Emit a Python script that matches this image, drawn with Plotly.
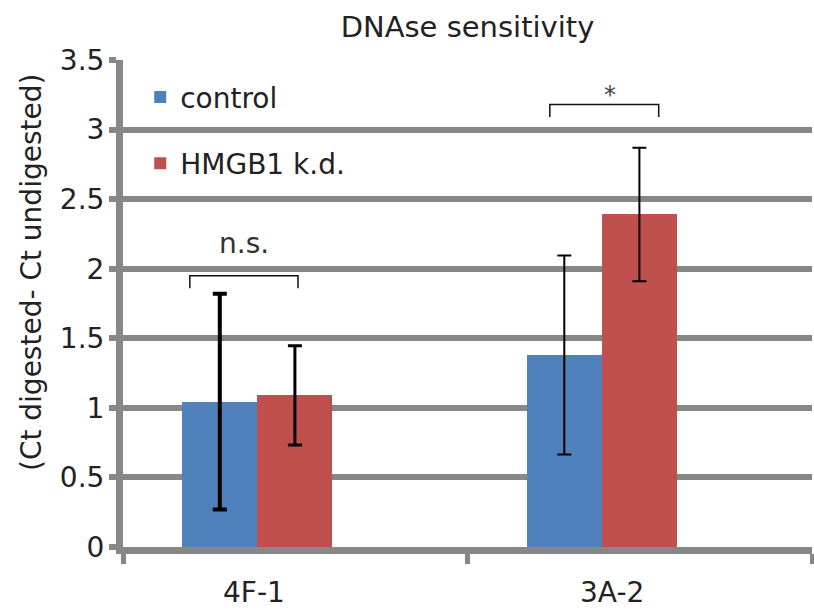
import numpy as np
import plotly.graph_objects as go

# ---- data ----
categories = ["4F-1", "3A-2"]
series_names = ["control", "HMGB1 k.d."]
control_vals = [1.045, 1.38]
control_err = [0.775, 0.715]
hmgb1_vals = [1.09, 2.39]
hmgb1_err = [0.357, 0.48]
y_ticks = [0, 0.5, 1, 1.5, 2, 2.5, 3, 3.5]
y_tick_text = ["0", "0.5", "1", "1.5", "2", "2.5", "3", "3.5"]

# significance brackets: (left, right, top, label)
brackets = [
    (0.194, 0.508, 1.95, "n.s."),
    (1.239, 1.555, 3.18, "*"),
]

# ---- style ----
FONT = "DejaVu Sans"
TXT = "#222222"
GRID = "#878787"
colors = ["#4F81BD", "#C0504D"]
group_pos = np.array([0.39, 1.39])      # centre of each bar pair on the x axis
label_pos = [0.38, 1.42]                # category label positions
bar_w = 0.218
err_thick = [[4, 2], [3, 2]]            # error-bar line width per series / category

fig = go.Figure()

values = [control_vals, hmgb1_vals]
errors = [control_err, hmgb1_err]
offsets = [-bar_w, 0.0]

for s, name in enumerate(series_names):
    fig.add_trace(go.Bar(
        x=group_pos, y=values[s], name=name,
        width=bar_w, offset=offsets[s],
        marker=dict(color=colors[s], line=dict(width=0)),
        legendgroup=name,
    ))

# error bars drawn at bar centres
for s in range(len(series_names)):
    centres = group_pos + offsets[s] + bar_w / 2
    for i in range(len(categories)):
        fig.add_trace(go.Scatter(
            x=[centres[i]], y=[values[s][i]], mode="markers",
            marker=dict(size=1, color="rgba(0,0,0,0)"),
            error_y=dict(type="data", array=[errors[s][i]], visible=True,
                         color="black", thickness=err_thick[s][i], width=7),
            showlegend=False, hoverinfo="skip",
        ))

# brackets with labels
shapes = []
annotations = []
for left, right, top, label in brackets:
    drop = 0.09
    shapes.append(dict(
        type="path", xref="x", yref="y",
        path=f"M {left},{top - drop} L {left},{top} L {right},{top} L {right},{top - drop}",
        line=dict(color="#111111", width=1.5),
    ))
    is_star = label == "*"
    annotations.append(dict(
        x=(left + right) / 2 + (0.017 if is_star else 0.0),
        y=top + (-0.05 if is_star else 0.1), xref="x", yref="y",
        text=label, showarrow=False, yanchor="bottom", xanchor="center",
        font=dict(family=FONT, size=24 if is_star else 28, color="#444444" if is_star else "#333333"),
    ))

annotations.append(dict(
    x=-0.1335, y=0.5626, xref="paper", yref="paper",
    xanchor="center", yanchor="middle",
    text="(Ct digested- Ct undigested)", textangle=-90, showarrow=False,
    font=dict(family=FONT, size=28, color=TXT),
))

fig.update_layout(
    width=814, height=612,
    margin=dict(l=123, r=2, t=60, b=65),
    paper_bgcolor="white", plot_bgcolor="white",
    font=dict(family=FONT, size=28, color=TXT),
    title=dict(text="DNAse sensitivity", x=0.5, xref="paper", xanchor="center",
               y=1 - 27 / 612, yref="container", yanchor="middle",
               font=dict(family=FONT, size=29, color=TXT)),
    showlegend=True,
    legend=dict(x=0.025, y=0.975, xanchor="left", yanchor="top",
                traceorder="grouped", tracegroupgap=27,
                bgcolor="rgba(0,0,0,0)", font=dict(family=FONT, size=28, color=TXT)),
    shapes=shapes,
    annotations=annotations,
    bargap=0,
)

fig.update_xaxes(
    range=[0, 2], tickmode="array", tickvals=label_pos, ticktext=categories,
    ticks="", showgrid=False, zeroline=False, automargin=False,
    showline=True, linecolor=GRID, linewidth=7,
    ticklabelstandoff=14,
    minor=dict(tickmode="array", tickvals=[0, 1, 2], ticks="outside",
               ticklen=10, tickwidth=5, tickcolor=GRID, showgrid=False),
    tickfont=dict(family=FONT, size=28, color=TXT),
)

fig.update_yaxes(
    range=[0, 3.5], tickmode="array", tickvals=y_ticks, ticktext=y_tick_text,
    showgrid=True, gridcolor=GRID, gridwidth=6, zeroline=False, automargin=False,
    showline=True, linecolor=GRID, linewidth=7,
    ticks="outside", ticklen=7, tickwidth=6, tickcolor=GRID,
    ticklabelstandoff=-1,
    tickfont=dict(family=FONT, size=28, color=TXT),
)

fig.write_html("out.html")
